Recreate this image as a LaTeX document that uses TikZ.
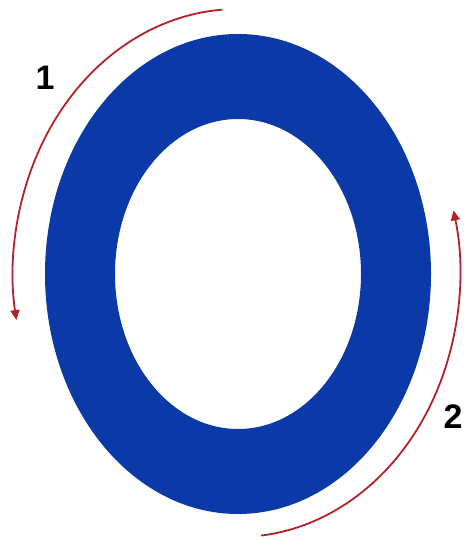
\documentclass[tikz,border=0pt]{standalone}
\usepackage{fontspec}
\setmainfont{Liberation Sans}
\usetikzlibrary{arrows.meta}
\definecolor{ringblue}{RGB}{11,57,168}
\definecolor{arrowred}{RGB}{178,34,40}
\tikzset{
  turn/.style={draw=arrowred, line width=1.8pt, -{Triangle[length=10pt,width=9pt]}},
  num/.style={font=\fontsize{34}{34}\selectfont\bfseries, text=black, inner sep=0pt}
}
\begin{document}
\begin{tikzpicture}[x=1pt,y=1pt]
\useasboundingbox (0,0) rectangle (464,540);
\coordinate (c) at (238,266);
\fill[ringblue, even odd rule] (c) ellipse[x radius=193, y radius=240]
  (c) ellipse[x radius=123, y radius=155];
\draw[turn] ([shift={(94:225 and 265)}]c) arc[start angle=94, end angle=190, x radius=225, y radius=265];
\draw[turn] ([shift={(-84:222 and 263)}]c) arc[start angle=-84, end angle=14, x radius=222, y radius=263];
\node[num] (n1) at (45,462) {1};
\node[num] (n2) at (453,123) {2};
\end{tikzpicture}
\end{document}
